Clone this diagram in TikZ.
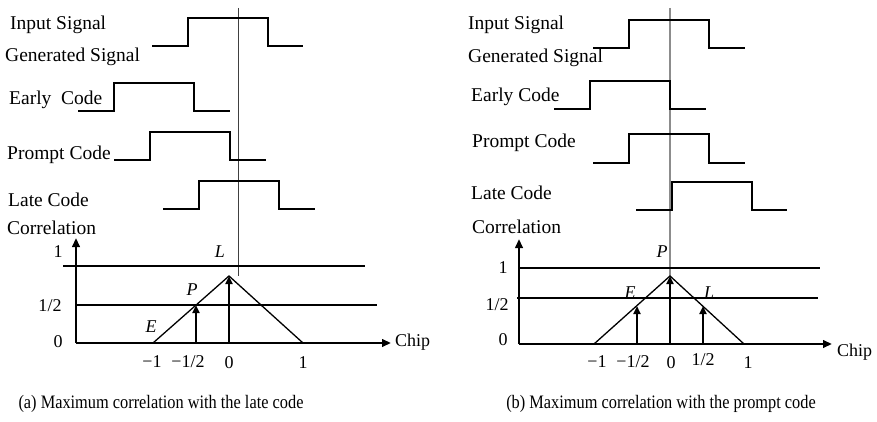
\documentclass[tikz,border=0pt]{standalone}
\usepackage{fontspec}
\setmainfont{Liberation Serif}
\newfontfamily\captionfont[FakeStretch=0.86]{Liberation Serif}
\usetikzlibrary{arrows.meta}
\begin{document}
\begin{tikzpicture}[x=1pt,y=-1pt,
  wave/.style={line width=1.6pt, line join=miter},
  guide/.style={line width=0.7pt, black!75},
  guidegray/.style={line width=1.1pt, black!45},
  axisline/.style={line width=2.2pt, -{Triangle[length=9pt,width=7.5pt]}},
  level/.style={line width=1.3pt},
  levelthick/.style={line width=1.7pt},
  tri/.style={line width=1.3pt},
  corrarrow/.style={line width=2.2pt, -{Triangle[length=8pt,width=7pt]}},
  lab/.style={font=\fontsize{19.5}{22}\selectfont, anchor=west, inner sep=0pt},
  ticklab/.style={font=\fontsize{18}{20}\selectfont, inner sep=0pt},
  peaklab/.style={font=\fontsize{18}{20}\selectfont\itshape, inner sep=0pt},
  caption/.style={font=\captionfont\fontsize{19}{21}\selectfont, inner sep=0pt}]
\useasboundingbox (0,0) rectangle (877,422);

% ===================== left panel =====================
\draw[guide] (238,8) -- (238,276);

\node[lab] (inA) at (10,25) {Input Signal};
\node[lab] (genA) at (5,57) {Generated Signal};
\node[lab] (earA) at (9,100) {Early\ \ Code};
\node[lab] (proA) at (7,155) {Prompt Code};
\node[lab] (latA) at (8,200) {Late Code};
\node[lab] (corA) at (7,228) {Correlation};

\draw[wave] (152,46) -- (188,46) -- (188,18) -- (268,18) -- (268,46) -- (303,46);
\draw[wave] (78,111) -- (114,111) -- (114,83) -- (194,83) -- (194,111) -- (230,111);
\draw[wave] (114,160) -- (150,160) -- (150,132) -- (230,132) -- (230,160) -- (266,160);
\draw[wave] (163,209) -- (199,209) -- (199,181) -- (279,181) -- (279,209) -- (315,209);

\coordinate (oA) at (76,343);
\coordinate (yA) at (76,238);
\coordinate (xA) at (391,343);
\draw[level] (63,266) -- (365,266);
\draw[levelthick] (76,305) -- (377,305);
\draw[tri] (153,343) -- (229,276) -- (303,343);
\draw[axisline] (oA) -- (yA);
\draw[axisline] (oA) -- (xA);
\draw[corrarrow] (196,343) -- (196,305);
\draw[corrarrow] (229,343) -- (229,276);

\node[ticklab] (y1A) at (58,252) {1};
\node[ticklab] (yhA) at (50,306) {1/2};
\node[ticklab] (y0A) at (58,342) {0};
\node[ticklab, anchor=west] (chipA) at (395,342) {Chip};
\node[ticklab] (tm1A) at (152,362) {−1};
\node[ticklab] (tmhA) at (188,362) {−1/2};
\node[ticklab] (t0A) at (229,363) {0};
\node[ticklab] (t1A) at (303,363) {1};

\node[peaklab] (LA) at (220,252) {L};
\node[peaklab] (PA) at (192,290) {P};
\node[peaklab] (EA) at (151,327) {E};

\node[caption] (capA) at (161,404) {(a) Maximum correlation with the late code};

% ===================== right panel =====================
\draw[guidegray] (670,8) -- (670,276);

\node[lab] (inB) at (468,25) {Input Signal};
\node[lab] (genB) at (468,58) {Generated Signal};
\node[lab] (earB) at (471,97) {Early Code};
\node[lab] (proB) at (472,143) {Prompt Code};
\node[lab] (latB) at (471,193) {Late Code};
\node[lab] (corB) at (472,227) {Correlation};

\draw[wave] (593,48) -- (629,48) -- (629,20) -- (709,20) -- (709,48) -- (745,48);
\draw[wave] (554,109) -- (590,109) -- (590,81) -- (670,81) -- (670,109) -- (706,109);
\draw[wave] (593,163) -- (629,163) -- (629,134) -- (709,134) -- (709,163) -- (745,163);
\draw[wave] (636,210) -- (672,210) -- (672,182) -- (752,182) -- (752,210) -- (787,210);

\coordinate (oB) at (519,344);
\coordinate (yB) at (519,239);
\coordinate (xB) at (832,344);
\draw[levelthick] (519,268) -- (820,268);
\draw[level] (517,298) -- (818,298);
\draw[tri] (594,344) -- (670,276) -- (744,344);
\draw[axisline] (oB) -- (yB);
\draw[axisline] (oB) -- (xB);
\draw[corrarrow] (637,344) -- (637,306);
\draw[corrarrow] (670,344) -- (670,276);
\draw[corrarrow] (703,344) -- (703,306);

\node[ticklab] (y1B) at (503,268) {1};
\node[ticklab] (yhB) at (497,305) {1/2};
\node[ticklab] (y0B) at (503,340) {0};
\node[ticklab, anchor=west] (chipB) at (837,352) {Chip};
\node[ticklab] (tm1B) at (597,362) {−1};
\node[ticklab] (tmhB) at (633,362) {−1/2};
\node[ticklab] (t0B) at (671,363) {0};
\node[ticklab] (thB) at (703,360) {1/2};
\node[ticklab] (t1B) at (748,363) {1};

\node[peaklab] (PB) at (662,252) {P};
\node[peaklab] (EB) at (630,293) {E};
\node[peaklab] (LB) at (709,293) {L};

\node[caption] (capB) at (661,404) {(b) Maximum correlation with the prompt code};
\end{tikzpicture}
\end{document}
